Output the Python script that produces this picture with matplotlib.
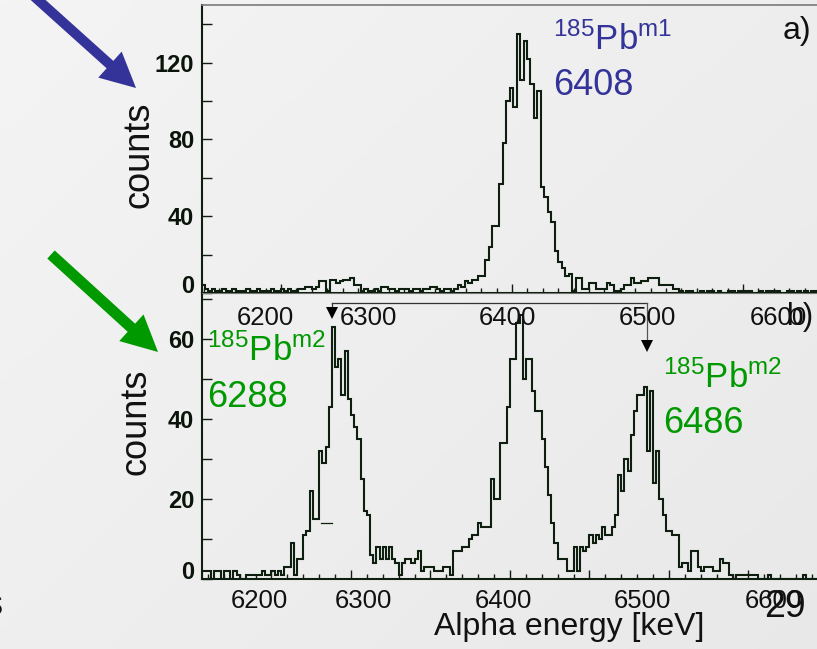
import numpy as np
import matplotlib
matplotlib.use("Agg")
import matplotlib.pyplot as plt
from matplotlib.ticker import MultipleLocator, FixedLocator
from matplotlib.patches import FancyArrow

plt.rcParams['font.family'] = ['Liberation Sans', 'DejaVu Sans']
plt.rcParams['mathtext.fontset'] = 'custom'
plt.rcParams['mathtext.rm'] = 'Liberation Sans'
plt.rcParams['mathtext.it'] = 'Liberation Sans:italic'
plt.rcParams['mathtext.bf'] = 'Liberation Sans:bold'

# ---------------- data ----------------
# a) alpha spectrum gated on 185Pb m1, 3 keV bins
top_bin_start = 6131.0
top_bin_width = 3.0
top_counts = [
    4, 2,
    1, 2, 1, 1, 2, 1, 1, 2, 1, 1, 1, 2, 1, 1, 2, 1, 1, 1, 2, 1, 1, 2, 1, 2, 1, 1, 2, 2,
    3, 3, 2, 3, 6, 6, 1, 7, 7, 5, 6, 7, 7, 8, 4, 4,
    1, 2, 1, 1, 2, 1, 3, 3,
    2, 2, 1, 2, 2, 2, 1, 2, 2, 1, 2, 2, 3, 3,
    2, 1, 2, 2, 1, 2, 4, 3, 6, 5, 7, 7, 9, 9,
    17, 24, 35, 35, 57, 78, 100, 107, 97, 135, 111, 131, 122, 109, 91, 105,
    55, 50, 42, 37, 22, 16, 13, 9, 10, 1, 8, 8, 2, 2, 5, 5, 2, 2, 2, 5, 4,
    1, 1, 2, 4, 4, 8, 5, 5, 6, 6, 8, 8, 8, 4, 4, 4, 4, 2, 2,
    1, 0, 1, 1, 0, 0, 1, 0, 1, 1, 0, 1, 0, 0, 1, 1, 0, 1, 0, 1,
    1, 0, 0, 1, 0, 1, 1, 0, 1, 0, 0, 1, 1, 0, 1, 0, 1, 0, 1, 1,
]

# b) alpha spectrum gated on 185Pb m2, 2 keV bins
bottom_bin_start = 6206.0
bottom_bin_width = 2.0
bottom_counts = [
    2, 2, 2, 0, 2, 2, 0, 2, 2, 0, 2, 1, 0, 0, 1, 1, 1, 1, 1, 2, 1, 1, 2, 1, 2, 1, 3, 3,
    9, 1, 5, 5, 11, 12, 22, 15, 15, 32, 29, 33, 43, 63, 53, 55, 46, 57, 45, 41, 38, 35,
    25, 17, 16, 6, 4, 8, 5, 8, 5, 8, 5, 4, 1, 4, 5, 5, 4, 5, 7, 2, 3, 3, 3, 2, 2, 2,
    3, 3, 1, 7, 7, 7, 8, 8, 10, 11, 11, 14, 13, 13, 13, 25, 20, 20, 34, 34, 43, 55,
    55, 64, 66, 50, 55, 55, 47, 42, 42, 35, 28, 21, 14, 9, 5, 5, 5, 2, 2, 8, 2, 8,
    7, 8, 11, 9, 11, 10, 13, 11, 11, 13, 16, 26, 22, 30, 27, 36, 42, 46, 46, 48, 32,
    47, 24, 32, 20, 16, 12, 12, 11, 11, 3, 4, 4, 2, 7, 7, 3, 2, 3, 3, 3, 2, 2, 5, 4,
    4, 1, 0, 1, 1, 1, 1, 1, 1, 1, 0, 0, 0, 1, 0, 0, 0, 0, 0, 0, 0, 0, 0, 0, 1,
    0, 0, 0, 0,
]

peak_m1 = 6408
peak_m2_low = 6288
peak_m2_high = 6486

energy_ticks = [6200, 6300, 6400, 6500, 6600]

# ---------------- layout ----------------
W, H = 817, 649
fig = plt.figure(figsize=(W / 100, H / 100), dpi=100)


def fx(px):
    return px / W


def fy(py):
    return 1 - py / H


dark = '#0f1f0f'
blue = '#333399'
green = '#009900'

# light grey slide background
bg = fig.add_axes([0, 0, 1, 1], zorder=-10)
gx, gy = np.meshgrid(np.linspace(0, 1, 200), np.linspace(0, 1, 160))
shade = 0.957 - 0.045 * (0.55 * gx + 0.45 * gy)
bg.imshow(np.dstack([shade] * 3), extent=[0, 1, 0, 1], aspect='auto',
          origin='upper', interpolation='bilinear')
bg.axis('off')

ax_top = fig.add_axes([fx(202), fy(293), fx(615), 288 / H])
ax_bot = fig.add_axes([fx(202), fy(579), fx(615), 286 / H])

for ax in (ax_top, ax_bot):
    ax.set_facecolor('none')
    ax.spines['right'].set_visible(False)
    for s in ('left', 'bottom'):
        ax.spines[s].set_color(dark)
        ax.spines[s].set_linewidth(1.5)
    ax.tick_params(axis='y', which='both', direction='in', length=7.2,
                   width=1.0, color=dark, right=False, pad=5.5)
    ax.tick_params(axis='y', which='major', labelsize=17, labelcolor='#0a140a')
    ax.tick_params(axis='x', which='major', direction='in', length=6.5,
                   width=1.0, color=dark, top=False, labelbottom=False)
    ax.tick_params(axis='x', which='minor', direction='in', length=3.8,
                   width=1.0, color=dark, top=False)
    ax.set_xlabel('')

ax_top.spines['top'].set_color('#7a7a7a')
ax_top.spines['top'].set_linewidth(1.2)
ax_bot.spines['top'].set_color('#888888')
ax_bot.spines['top'].set_linewidth(0.6)

# panel a)
top_edges = top_bin_start + top_bin_width * np.arange(len(top_counts) + 1)
ax_top.stairs(top_counts, top_edges, color=dark, lw=1.5)
ax_top.set_xlim(6131.6, 6664.1)
ax_top.set_ylim(0, 150)
ax_top.yaxis.set_major_locator(FixedLocator([0, 40, 80, 120]))
ax_top.yaxis.set_minor_locator(FixedLocator([20, 60, 100, 140]))
ax_top.xaxis.set_major_locator(MultipleLocator(200))
ax_top.xaxis.set_minor_locator(MultipleLocator(200 / 15))

# panel b)
bot_edges = bottom_bin_start + bottom_bin_width * np.arange(len(bottom_counts) + 1)
ax_bot.stairs(bottom_counts, bot_edges, color=dark, lw=1.5)
ax_bot.set_xlim(6206.3, 6593.1)
ax_bot.set_ylim(0, 71.5)
ax_bot.yaxis.set_major_locator(FixedLocator([0, 20, 40, 60]))
ax_bot.yaxis.set_minor_locator(FixedLocator([10, 30, 50, 70]))
ax_bot.xaxis.set_major_locator(MultipleLocator(50))
ax_bot.xaxis.set_minor_locator(MultipleLocator(10))

for ax in (ax_top, ax_bot):
    for lab in ax.get_yticklabels():
        lab.set_fontweight('bold')
    for t in ax.yaxis.get_major_ticks():
        if t.get_loc() == 0:
            t.label1.set_verticalalignment('baseline')

# bracket linking the two m2 lines
ax_bot.plot([peak_m2_low, peak_m2_high], [69, 69], color='#333333', lw=0.9)
ax_bot.plot([peak_m2_low, peak_m2_low], [69, 67.8], color='#333333', lw=0.9)
ax_bot.plot([peak_m2_high, peak_m2_high], [69, 58], color='#555555', lw=0.9)
ax_bot.plot([peak_m2_low], [66.4], marker='v', ms=8, color='black', mew=0)
ax_bot.plot([peak_m2_high], [58.3], marker='v', ms=8.5, color='black', mew=0)
ax_bot.plot([6281, 6288], [14, 14], color=dark, lw=0.9)

# tick label rows
top_row_x = [265, 368, 507, 647, 778]
bot_row_x = [259.5, 363, 503, 642, 773]
for v, px in zip(energy_ticks, top_row_x):
    fig.text(fx(px), fy(325), str(v), ha='center', va='baseline',
             fontsize=18.5, color='#111111')
for v, px in zip(energy_ticks, bot_row_x):
    fig.text(fx(px), fy(608), str(v), ha='center', va='baseline',
             fontsize=18.5, color='#111111')

# axis titles
fig.text(fx(139), fy(155), 'counts', rotation=90, ha='center', va='center',
         fontsize=26, color='#111111')
fig.text(fx(136), fy(422), 'counts', rotation=90, ha='center', va='center',
         fontsize=26, color='#111111')
fig.text(fx(569), fy(635), 'Alpha energy [keV]', ha='center', va='baseline',
         fontsize=23, color='#111111')

# panel tags and slide remnants
fig.text(fx(783), fy(39), 'a)', ha='left', va='baseline', fontsize=23,
         color='#111111')
fig.text(fx(786), fy(325), 'b)', ha='left', va='baseline', fontsize=22,
         color='#111111')
fig.text(fx(785), fy(617), '29', ha='center', va='baseline', fontsize=27,
         color='#111111')
fig.text(fx(3.5), fy(615), 's', ha='right', va='baseline', fontsize=26,
         color='#111111')

# isotope labels
fig.text(fx(553), fy(50), r'$^{185}\mathrm{Pb}^{\mathrm{m1}}$', ha='left',
         va='baseline', fontsize=25, color=blue)
fig.text(fx(553), fy(95), f'{peak_m1}', ha='left', va='baseline',
         fontsize=26, color=blue)
fig.text(fx(207), fy(361), r'$^{185}\mathrm{Pb}^{\mathrm{m2}}$', ha='left',
         va='baseline', fontsize=25, color=green)
fig.text(fx(207), fy(407), f'{peak_m2_low}', ha='left', va='baseline',
         fontsize=26, color=green)
fig.text(fx(663), fy(388), r'$^{185}\mathrm{Pb}^{\mathrm{m2}}$', ha='left',
         va='baseline', fontsize=25, color=green)
fig.text(fx(663), fy(433), f'{peak_m2_high}', ha='left', va='baseline',
         fontsize=26, color=green)

# pointer arrows (pixel overlay)
ov = fig.add_axes([0, 0, 1, 1], zorder=5)
ov.set_xlim(0, W)
ov.set_ylim(H, 0)
ov.axis('off')
ov.add_patch(FancyArrow(27, -10, 109, 98, width=10, head_width=35,
                        head_length=35, length_includes_head=True,
                        color=blue, lw=0))
ov.add_patch(FancyArrow(51, 254.5, 107, 97.5, width=11, head_width=36,
                        head_length=36, length_includes_head=True,
                        color=green, lw=0))

fig.savefig('out.png', dpi=100)
